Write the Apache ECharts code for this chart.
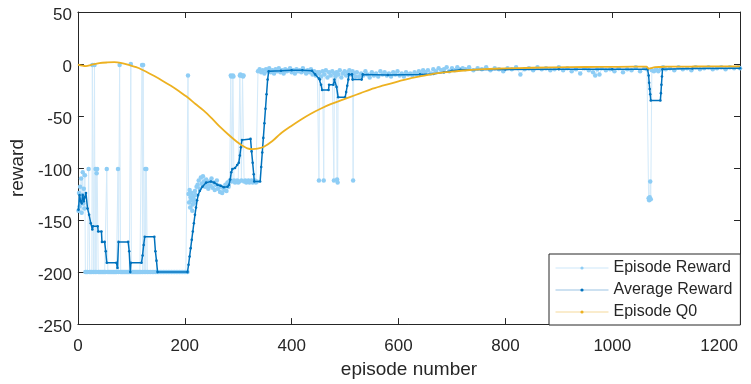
<!DOCTYPE html>
<html><head><meta charset="utf-8">
<script src="https://cdn.jsdelivr.net/npm/echarts@6/dist/echarts.min.js"></script>
<style>html,body{margin:0;padding:0;background:#fff;}#c{width:751px;height:384px;}</style>
</head><body><div id="c"></div>
<script>
const xTicks = [0, 200, 400, 600, 800, 1000, 1200];
const yTicks = [-250, -200, -150, -100, -50, 0, 50];
const seriesNames = ['Episode Reward', 'Average Reward', 'Episode Q0'];

// [episode, reward]
const episodeReward = [
[1,-141],[2,-124],[3,-137],[4,-118],[5,-130],[6,-110],[7,-143],[8,-126],[9,-104],[10,-134],[11,-120],[12,-139],[13,-107],
[14,-200],[16,-200],[18,-200],[20,-101],[22,-200],[24,-200],[26,-200],[27,-1],[29,-200],[31,-1],[32,-200],[33,-101],[34,-200],[35,-105],[36,-101],
[38,-200],[40,-200],[42,-200],[44,-200],[46,-200],[48,-200],[50,-200],[52,-200],[54,-101],[56,-200],[58,-200],[60,-200],[62,-200],[64,-200],
[66,-200],[68,-200],[70,-200],[72,-200],[75,-101],[76,-200],[78,-1],[80,-200],[82,-200],[84,-200],[86,-200],[88,-200],[90,-200],[92,-200],
[94,-200],[96,-200],[99,0],[100,-200],[102,-200],[104,-200],[106,-200],[108,-200],[110,-200],[112,-200],[114,-200],[116,-200],[118,-200],
[120,-1],[121,-200],[122,-1],[124,-200],[126,-101],[127,-200],[128,-101],[130,-200],[133,-200],[136,-200],[139,-200],[142,-200],[145,-200],
[148,-200],[151,-200],[154,-200],[157,-200],[160,-200],[163,-200],[166,-200],[169,-200],[172,-200],[175,-200],[178,-200],[181,-200],[184,-200],
[187,-200],[190,-200],[193,-200],[196,-200],[199,-200],[202,-200],[205,-200],
[206,-11],[207,-125],[208,-133],[209,-121],[210,-138],[211,-128],[212,-131],[213,-124],[214,-141],[215,-135],[216,-127],[217,-130],[218,-133],
[219,-122],[220,-126],[222,-118],
[224,-116],[226,-112],[228,-120],[230,-109],[232,-115],[234,-108],[236,-113],[238,-118],[240,-111],[242,-116],[244,-120],[246,-113],[248,-117],
[250,-110],[252,-119],[254,-114],[256,-121],[258,-116],[260,-112],[262,-120],[264,-117],[266,-123],[268,-118],[270,-124],[272,-119],[274,-121],
[276,-116],[278,-122],[280,-114],[282,-118],[284,-112],
[286,-11],[287,-12],[288,-113],[290,-11],[291,-12],[292,-112],[294,-114],[296,-113],[298,-112],[300,-114],[302,-113],[303,-11],[304,-10],[305,-11],
[306,-112],[308,-11],[309,-12],[310,-11],[311,-113],[313,-112],[315,-114],[317,-113],[319,-112],[321,-114],[323,-113],[325,-112],[327,-114],
[329,-113],[331,-112],[333,-114],[335,-113],
[337,-7],[340,-5],[343,-8],[346,-6],[349,-9],[352,-5],[355,-7],[358,-4],[361,-8],[364,-6],[367,-9],[370,-5],[373,-7],[376,-4],[379,-8],[382,-6],
[385,-9],[388,-5],[391,-7],[394,-6],[397,-4],[400,-8],[403,-6],[406,-9],[409,-5],[412,-7],[415,-6],[418,-8],[421,-4],[424,-7],[427,-9],[430,-6],
[433,-8],[436,-5],[439,-10],[442,-7],[445,-11],[448,-8],
[450,-9],[451,-112],[452,-8],[455,-12],[458,-7],[460,-112],[461,-10],[464,-6],[467,-13],[470,-8],[473,-11],[476,-7],[479,-112],[480,-9],[482,-12],
[484,-8],[485,-111],[486,-114],[487,-10],[490,-6],[493,-13],[496,-9],[499,-7],[502,-11],[505,-8],[508,-6],[511,-10],[514,-7],[515,-112],[516,-9],[519,-12],
[522,-8],[526,-12],[530,-9],[534,-11],[538,-7],[542,-10],[546,-13],[550,-8],[554,-11],[558,-9],[562,-12],[566,-7],[570,-10],[574,-8],[578,-11],
[582,-9],[586,-12],[590,-8],[594,-10],[598,-7],[602,-11],[606,-9],[610,-12],[614,-8],[618,-10],[622,-9],[626,-11],[630,-8],[634,-10],[638,-7],
[642,-9],[646,-6],[650,-8],[655,-6],[660,-9],[665,-5],[670,-7],[675,-4],[680,-6],[685,-5],[690,-3],[695,-7],[700,-4],[705,-6],[710,-3],[715,-5],[720,-4],
[725,-5],[732,-3],[740,-6],[748,-4],[756,-5],[764,-3],[772,-6],[780,-4],[788,-5],[796,-7],[804,-4],[812,-5],[820,-3],[828,-10],[836,-5],[844,-4],
[852,-6],[860,-3],[868,-5],[876,-4],[884,-6],[892,-5],[900,-3],[908,-6],[916,-4],[924,-7],[932,-5],[940,-9],[948,-4],[956,-6],[964,-8],[968,-11],
[972,-5],[976,-10],[980,-4],[988,-6],[996,-5],[1004,-7],[1012,-4],[1020,-8],[1028,-5],[1036,-6],[1044,-3],[1052,-7],[1060,-4],[1065,-5],
[1068,-129],[1069,-131],[1070,-128],[1071,-113],[1072,-130],[1074,-6],[1078,-7],[1082,-5],[1086,-7],[1090,-5],[1095,-3],[1100,-5],[1108,-4],
[1116,-6],[1124,-3],[1132,-5],[1140,-4],[1148,-6],[1156,-3],[1164,-5],[1172,-4],[1180,-3],[1188,-5],[1196,-4],[1204,-3],[1212,-5],[1220,-3],
[1228,-4],[1236,-3],[1239,-4]
];

// [episode, average reward]
const averageReward = [
[1,-140],[3,-126],[5,-132],[7,-134],[9,-126],[11,-132],[13,-128],[15,-124],[18,-139],[21,-145],[24,-153],[27,-159],[28,-156],[37,-156],
[38,-161],[44,-161],[45,-171],[50,-171],[52,-180],[54,-191],[72,-191],[74,-196],[76,-171],[94,-171],[96,-180],[98,-200],[99,-191],[119,-191],
[121,-184],[123,-174],[125,-166],[143,-166],[145,-180],[147,-189],[149,-200],[205,-200],[207,-193],[209,-185],[211,-177],[213,-169],[215,-161],
[217,-153],[219,-145],[221,-138],[223,-131],[225,-126],[228,-122],[233,-118],[240,-114],[249,-113],[255,-114],[261,-116],[267,-117],[273,-118.5],
[280,-118],[283,-116],[285,-111],[287,-104],[289,-101],[294,-100],[298,-97],[301,-95],[303,-88],[305,-80],[307,-73],[323,-72],[325,-84],
[327,-95],[329,-106],[330,-113],[341,-113],[343,-99],[345,-85],[347,-71],[349,-57],[351,-43],[353,-29],[355,-15],[357,-7],[380,-6.5],[400,-6],
[420,-6],[438,-6.5],[444,-10],[451,-14],[453,-15],[455,-20],[457,-25],[469,-25],[470,-20],[478,-20],[480,-15],[484,-22],[487,-32],[500,-32],
[502,-27],[504,-21],[506,-15],[507,-10],[513,-10],[514,-15],[531,-15],[533,-10],[580,-10.5],[640,-10],[665,-9.5],[685,-8],[700,-6.5],[716,-5.5],
[800,-5.2],[900,-5],[1000,-5],[1066,-5],[1068,-11],[1069,-18],[1070,-24],[1071,-29],[1072,-35],[1090,-35],[1091,-28],[1092,-20],[1093,-12],
[1094,-5],[1150,-4.3],[1239,-4]
];

// [episode, Q0]
const episodeQ0 = [
[0,-0.5],[8,-1.5],[15,-2],[25,-0.8],[40,0.8],[55,1.5],[68,1.8],[80,1.2],[95,-0.8],[112,-3.6],[127,-7.2],[143,-11.6],[158,-16],[174,-21],
[190,-26.5],[205,-32],[220,-38.5],[236,-45],[252,-53],[267,-61],[283,-68.5],[298,-75],[308,-78.5],[317,-81],[327,-81.8],[336,-81.4],[348,-79.5],
[364,-74],[379,-67],[398,-60],[417,-53.5],[435,-48],[454,-43],[473,-38.6],[492,-35],[510,-31.6],[529,-28],[548,-24.3],[566,-21.5],[585,-18.9],
[604,-16],[622,-13.8],[645,-11.5],[670,-9],[697,-7.5],[728,-6],[760,-5],[800,-4.2],[850,-3.6],[921,-3],[980,-2.8],[1040,-2.6],[1064,-2.6],
[1068,-4.5],[1072,-4],[1080,-3],[1100,-2.6],[1150,-2.4],[1200,-2.2],[1239,-2.2]
];

const AX = '#262626';
const FONT = '"Liberation Sans", Arial, Helvetica, sans-serif';
const chart = echarts.init(document.getElementById('c'), null, {renderer: 'canvas'});
const xMin = xTicks[0], xMax = 1239, xInt = xTicks[1] - xTicks[0];
const yMin = yTicks[0], yMax = yTicks[yTicks.length - 1], yInt = yTicks[1] - yTicks[0];
const tickFmt = v => (xTicks.indexOf(v) >= 0 ? String(v) : '');

function baseAxis(extra) {
  return Object.assign({
    type: 'value',
    axisLine: {show: true, onZero: false, lineStyle: {color: AX, width: 1}},
    axisTick: {show: true, inside: true, length: 6, lineStyle: {color: AX, width: 1}},
    splitLine: {show: false},
    axisLabel: {show: false}
  }, extra);
}

chart.setOption({
  animation: false,
  backgroundColor: '#ffffff',
  grid: {left: 77, right: 11, top: 12, bottom: 57, containLabel: false},
  xAxis: [
    baseAxis({position: 'bottom', min: xMin, max: xMax, interval: xInt,
      name: 'episode number', nameLocation: 'middle', nameGap: 34,
      nameTextStyle: {fontSize: 19, color: AX, fontFamily: FONT},
      axisLabel: {show: true, margin: 14, fontSize: 17, color: AX, fontFamily: FONT, formatter: tickFmt}}),
    baseAxis({position: 'top', min: xMin, max: xMax, interval: xInt})
  ],
  yAxis: [
    baseAxis({position: 'left', min: yMin, max: yMax, interval: yInt,
      name: 'reward', nameLocation: 'middle', nameGap: 50, nameRotate: 90,
      nameTextStyle: {fontSize: 19, color: AX, fontFamily: FONT},
      axisLabel: {show: true, margin: 6, fontSize: 17, color: AX, fontFamily: FONT, verticalAlign: 'top', lineHeight: 6}}),
    baseAxis({position: 'right', min: yMin, max: yMax, interval: yInt})
  ],
  legend: {
    orient: 'vertical', left: 549, top: 254,
    padding: [5, 8, 4, 6], itemGap: 4, itemWidth: 53, itemHeight: 4,
    backgroundColor: '#ffffff', borderColor: AX, borderWidth: 1, borderRadius: 0,
    textStyle: {fontSize: 16, color: AX, fontFamily: FONT, lineHeight: 18},
    data: [
      {name: seriesNames[0], lineStyle: {color: '#cde7f9', width: 1}, itemStyle: {color: '#8ecdf5'}},
      {name: seriesNames[1], lineStyle: {color: '#9bc3e3', width: 1}, itemStyle: {color: '#0072bd'}},
      {name: seriesNames[2], lineStyle: {color: '#f5d99a', width: 1}, itemStyle: {color: '#edb120'}}
    ]
  },
  series: [
    {name: seriesNames[0], type: 'line', data: episodeReward, xAxisIndex: 0, yAxisIndex: 0,
      symbol: 'circle', symbolSize: 4.5, showSymbol: true,
      lineStyle: {color: '#d3eafa', width: 1}, itemStyle: {color: '#8ecdf5'}, z: 2},
    {name: seriesNames[1], type: 'line', data: averageReward, xAxisIndex: 0, yAxisIndex: 0,
      symbol: 'circle', symbolSize: 2.6, showSymbol: true,
      lineStyle: {color: '#0072bd', width: 1.5}, itemStyle: {color: '#0072bd'}, z: 3},
    {name: seriesNames[2], type: 'line', data: episodeQ0, xAxisIndex: 0, yAxisIndex: 0,
      symbol: 'circle', symbolSize: 2, showSymbol: false, smooth: 0.3,
      lineStyle: {color: '#edb120', width: 1.8}, itemStyle: {color: '#edb120'}, z: 4}
  ]
});
</script>
</body></html>
